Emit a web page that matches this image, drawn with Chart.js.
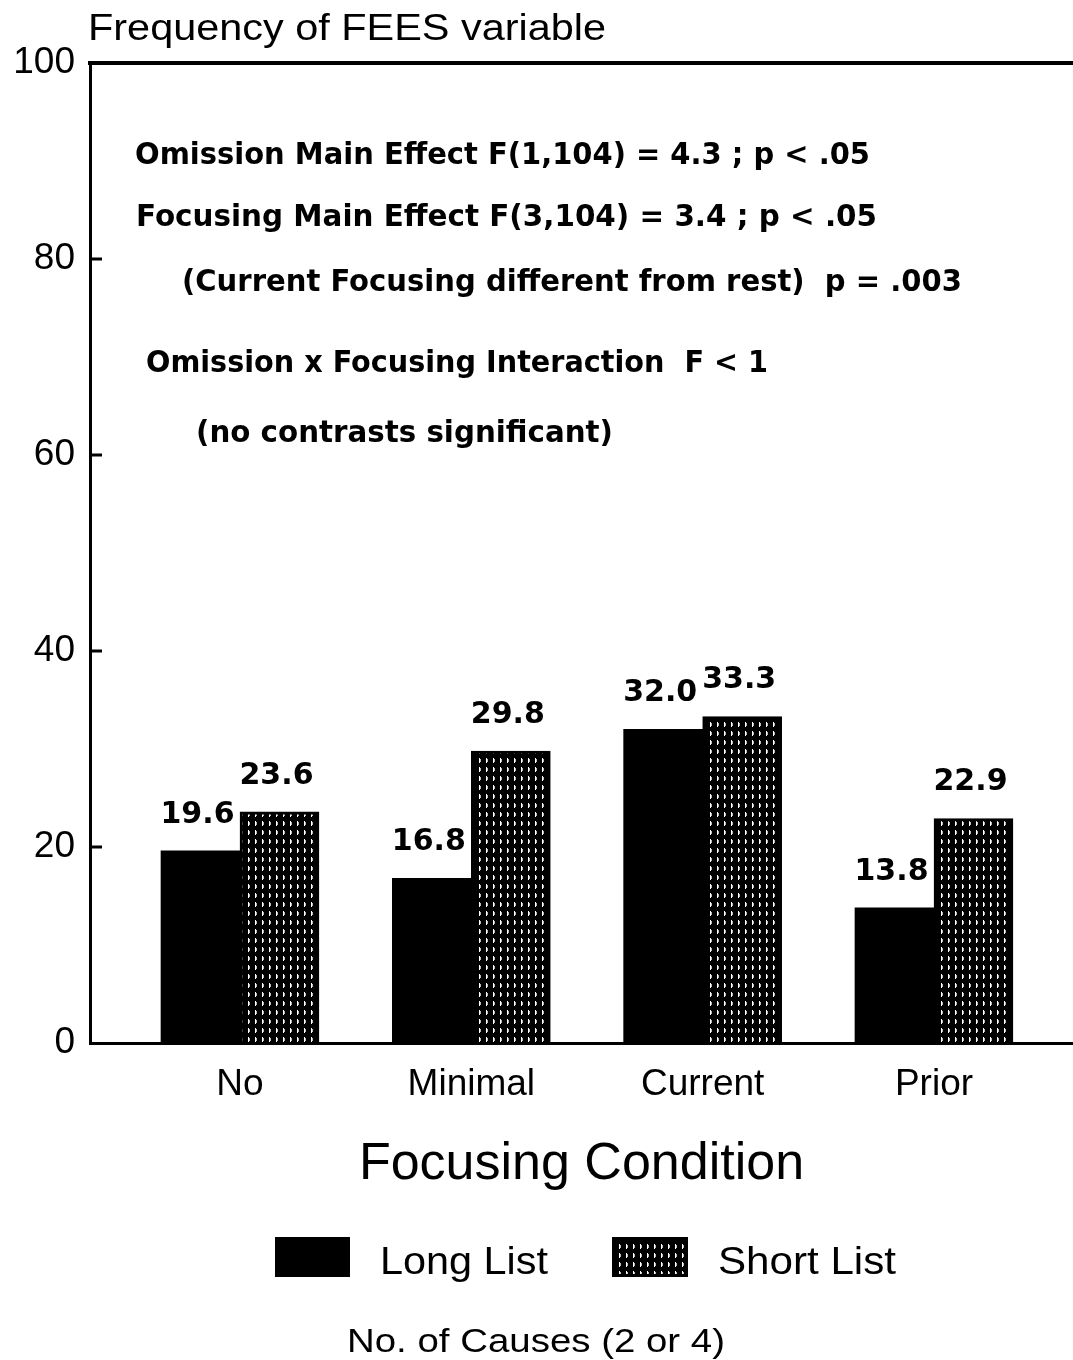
<!DOCTYPE html>
<html>
<head>
<meta charset="utf-8">
<title>Frequency of FEES variable</title>
<script src="https://cdn.jsdelivr.net/npm/chart.js@4/dist/chart.umd.min.js"></script>
<style>
  html, body { margin: 0; padding: 0; background: #fff; }
  #wrap { width: 1073px; height: 1360px; position: relative; }
  canvas { display: block; }
</style>
</head>
<body>
<div id="wrap"><canvas id="chart" width="1073" height="1360"></canvas></div>
<script>
// Focusing conditions on the x axis
const categories = ['No', 'Minimal', 'Current', 'Prior'];
// Percentage of FEES responses per list length
const longList = [19.6, 16.8, 32.0, 13.8];
const shortList = [23.6, 29.8, 33.3, 22.9];
const seriesNames = ['Long List', 'Short List'];
const yTicks = [0, 20, 40, 60, 80, 100];

const chartTitle = 'Frequency of FEES variable';
const xAxisTitle = 'Focusing Condition';
const footnote = 'No. of Causes (2 or 4)';
const statsLines = [
  'Omission Main Effect F(1,104) = 4.3 ; p < .05',
  'Focusing Main Effect F(3,104) = 3.4 ; p < .05',
  '(Current Focusing different from rest)  p = .003',
  'Omission x Focusing Interaction  F < 1',
  '(no contrasts significant)'
];

const REG = '"Liberation Sans", Arial, sans-serif';
const BOLD = '"DejaVu Sans", "Liberation Sans", sans-serif';

// Fine stipple used for the short-list bars: black ground with short white dashes
function makeStipple(ctx) {
  const p = document.createElement('canvas');
  p.width = 7; p.height = 9;
  const g = p.getContext('2d');
  g.fillStyle = '#000';
  g.fillRect(0, 0, 7, 9);
  g.fillStyle = '#fff';
  g.fillRect(3, 2, 1, 5);
  g.fillStyle = '#bbb';
  g.fillRect(4, 3, 1, 3);
  return ctx.createPattern(p, 'repeat');
}

// Draws text starting at x, vertically centred on y, stretched to a given width
function drawFitted(ctx, text, x, y, width, font) {
  ctx.save();
  ctx.font = font;
  ctx.textBaseline = 'middle';
  ctx.textAlign = 'left';
  const w = ctx.measureText(text).width;
  ctx.translate(x, y);
  ctx.scale(width / w, 1);
  ctx.fillText(text, 0, 0);
  ctx.restore();
}

const decorations = {
  id: 'decorations',
  afterDraw(chart) {
    const ctx = chart.ctx;
    const yScale = chart.scales.y;
    const area = chart.chartArea;
    ctx.save();
    ctx.fillStyle = '#000';
    ctx.strokeStyle = '#000';

    // inward tick marks on the value axis
    ctx.lineWidth = 3;
    yTicks.slice(1, -1).forEach(v => {
      const py = yScale.getPixelForValue(v);
      ctx.beginPath();
      ctx.moveTo(area.left, py);
      ctx.lineTo(area.left + 12, py);
      ctx.stroke();
    });

    // value labels above each bar
    ctx.font = 'bold 30px ' + BOLD;
    ctx.textAlign = 'center';
    ctx.textBaseline = 'middle';
    chart.data.datasets.forEach((ds, di) => {
      chart.getDatasetMeta(di).data.forEach((bar, i) => {
        ctx.fillText(ds.data[i].y.toFixed(1), bar.x - 3, bar.y - 36);
      });
    });

    // heading
    drawFitted(ctx, chartTitle, 88, 30, 518, '36px ' + REG);

    // statistics block
    const statsPos = [
      [135, 156, 735],
      [136, 218, 741],
      [182, 283, 780],
      [146, 364, 622],
      [196, 434, 417]
    ];
    statsLines.forEach((t, i) => {
      const [x, y, w] = statsPos[i];
      drawFitted(ctx, t, x, y, w, 'bold 30px ' + BOLD);
    });

    // legend
    const swatches = [[275, 1237, 75, 40, 380], [612, 1237, 76, 40, 718]];
    const labelW = [168, 178];
    chart.data.datasets.forEach((ds, i) => {
      const [bx, by, bw, bh, tx] = swatches[i];
      ctx.fillStyle = ds.backgroundColor;
      ctx.fillRect(bx, by, bw, bh);
      if (ds.borderWidth) {
        ctx.lineWidth = 3;
        ctx.strokeStyle = '#000';
        ctx.strokeRect(bx + 1.5, by + 1.5, bw - 3, bh - 3);
      }
      ctx.fillStyle = '#000';
      drawFitted(ctx, ds.label, tx, by + 27, labelW[i], '38px ' + REG);
    });

    // note under the legend
    drawFitted(ctx, footnote, 347, 1343, 378, '33px ' + REG);
    ctx.restore();
  }
};

const ctx = document.getElementById('chart').getContext('2d');
const stipple = makeStipple(ctx);

new Chart(ctx, {
  type: 'bar',
  data: {
    datasets: [
      {
        label: seriesNames[0],
        data: longList.map((v, i) => ({ x: i, y: v })),
        backgroundColor: '#000',
        borderWidth: 0,
        barThickness: 79
      },
      {
        label: seriesNames[1],
        data: shortList.map((v, i) => ({ x: i, y: v })),
        backgroundColor: stipple,
        borderColor: '#000',
        borderWidth: 3,
        barThickness: 79
      }
    ]
  },
  options: {
    responsive: false,
    animation: false,
    devicePixelRatio: 1,
    layout: { padding: 0 },
    plugins: {
      legend: { display: false },
      title: { display: false },
      tooltip: { enabled: false }
    },
    scales: {
      x: {
        type: 'linear',
        position: 'bottom',
        offset: false,
        min: -0.6484,
        max: 3.6009,
        afterBuildTicks: s => { s.ticks = categories.map((_, i) => ({ value: i })); },
        afterFit: s => { s.height = 317; },
        ticks: {
          callback: v => categories[v],
          autoSkip: false,
          maxRotation: 0,
          color: '#000',
          padding: 20,
          font: { family: REG, size: 37 }
        },
        grid: { display: false, drawTicks: false },
        border: { display: true, color: '#000', width: 3 },
        title: {
          display: true,
          text: xAxisTitle,
          color: '#000',
          font: { family: REG, size: 52 },
          padding: { top: 0, bottom: 164 }
        }
      },
      xTop: {
        type: 'linear',
        position: 'top',
        min: 0,
        max: 1,
        display: true,
        afterFit: s => { s.height = 63; },
        ticks: { display: false },
        grid: { display: false, drawTicks: false },
        border: { display: true, color: '#000', width: 4 }
      },
      y: {
        min: 0,
        max: 100,
        afterBuildTicks: s => { s.ticks = yTicks.map(v => ({ value: v })); },
        afterFit: s => { s.width = 90; },
        ticks: {
          color: '#000',
          padding: 15,
          font: { family: REG, size: 37 }
        },
        grid: { display: false, drawTicks: false },
        border: { display: true, color: '#000', width: 3 }
      }
    }
  },
  plugins: [decorations]
});
</script>
</body>
</html>
